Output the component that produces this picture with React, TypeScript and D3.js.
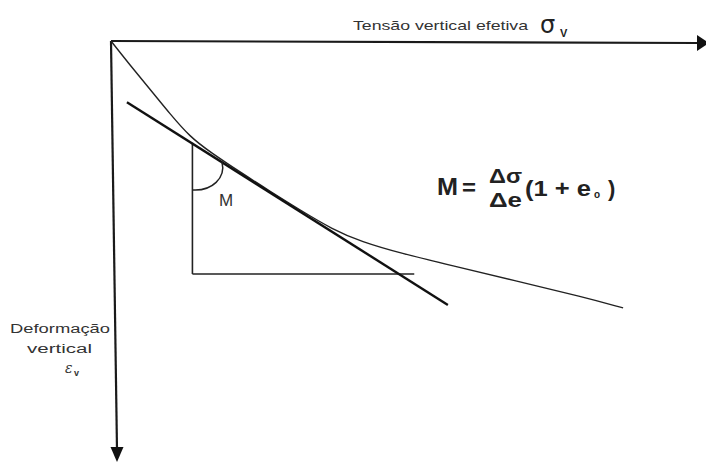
import React from "react";
import * as d3 from "d3";

// Compression curve: effective vertical stress (x) vs vertical strain (y), in arbitrary units 0..100
const stressValues = [0, 3.2, 6.6, 10, 13.4, 16.8, 21.9, 26.9, 32, 37.6, 42.4, 49.2, 57.5, 68.8, 80, 86.8];
const strainValues = [0, 5.7, 11.5, 17.4, 22.9, 26.5, 31.3, 35.8, 40.3, 45.0, 47.9, 50.7, 53.5, 57.3, 61.1, 63.7];

// Tangent line endpoints (stress, strain)
const tangentStress = [2.7, 57.1];
const tangentStrain = [14.6, 63.0];

// Slope triangle: tangent point and the corner below it
const trianglePoint = [13.8, 24.3];
const triangleBase = { strain: 55.6, stressEnd: 51.4 };

const xAxisLabel = "Tensão vertical efetiva";
const yAxisLabel = ["Deformação", "vertical"];

const W = 706;
const H = 462;

export default function App() {
  const x = d3.scaleLinear().domain([0, 100]).range([111, 701]);
  const y = d3.scaleLinear().domain([0, 100]).range([41, 460]);

  const curvePts: [number, number][] = stressValues.map((s, i) => [s, strainValues[i]]);
  const curve = d3
    .line<[number, number]>()
    .x((d) => x(d[0]))
    .y((d) => y(d[1]))
    .curve(d3.curveBasis)(curvePts);

  const tx0 = x(trianglePoint[0]);
  const ty0 = y(trianglePoint[1]);
  const tyB = y(triangleBase.strain);
  const txE = x(triangleBase.stressEnd);

  return (
    <svg
      width={W}
      height={H}
      style={{ position: "absolute", left: 0, top: 0, background: "#fff" }}
      fontFamily="'Liberation Sans', Arial, sans-serif"
    >
      <rect x={0} y={0} width={W} height={H} fill="#fff" />

      {/* horizontal axis */}
      <line x1={x(0)} y1={y(0)} x2={699} y2={43} stroke="#1a1a1a" strokeWidth={2.2} />
      <path d="M697,35 L709,43 L697,51 Z" fill="#111" />

      {/* vertical axis */}
      <line x1={x(0)} y1={y(0)} x2={117} y2={450} stroke="#1a1a1a" strokeWidth={2.2} />
      <path d="M110.5,447 L117,462 L123.5,447 Z" fill="#111" />

      {/* axis titles */}
      <text x={353} y={30} fontSize={13.5} fill="#333" textLength={175} lengthAdjust="spacingAndGlyphs">
        {xAxisLabel}
      </text>
      <text x={540} y={33} fontSize={24} fill="#222" fontFamily="'DejaVu Sans', sans-serif">
        σ
      </text>
      <text x={560} y={37} fontSize={11} fill="#222" fontWeight="bold">
        V
      </text>

      <text x={10} y={333} fontSize={12.5} fill="#333" textLength={100} lengthAdjust="spacingAndGlyphs">
        {yAxisLabel[0]}
      </text>
      <text x={27} y={353} fontSize={12.5} fill="#333" textLength={65} lengthAdjust="spacingAndGlyphs">
        {yAxisLabel[1]}
      </text>
      <text x={65} y={373} fontSize={14} fill="#333" fontStyle="italic" fontFamily="'DejaVu Serif', serif">
        ε
      </text>
      <text x={74} y={376} fontSize={9} fill="#333" fontWeight="bold">
        v
      </text>

      {/* compression curve */}
      <path d={curve ?? ""} fill="none" stroke="#222" strokeWidth={1.4} />

      {/* slope triangle */}
      <line x1={tx0} y1={ty0} x2={tx0} y2={tyB} stroke="#222" strokeWidth={1.6} />
      <line x1={tx0} y1={tyB} x2={txE} y2={tyB} stroke="#222" strokeWidth={1.6} />

      {/* tangent line */}
      <line
        x1={x(tangentStress[0])}
        y1={y(tangentStrain[0])}
        x2={x(tangentStress[1])}
        y2={y(tangentStrain[1])}
        stroke="#111"
        strokeWidth={2.4}
      />

      {/* angle arc */}
      <path d="M222,162 C226,178 212,191 193,190" fill="none" stroke="#222" strokeWidth={1.5} />
      <text x={219} y={206} fontSize={17} fill="#333">
        M
      </text>

      {/* modulus formula */}
      <g fill="#222" fontWeight="bold">
        <text x={437} y={195} fontSize={23} textLength={21} lengthAdjust="spacingAndGlyphs">M</text>
        <text x={462} y={195} fontSize={22} textLength={14} lengthAdjust="spacingAndGlyphs">=</text>
        <text x={489} y={183} fontSize={20} textLength={33} lengthAdjust="spacingAndGlyphs">Δσ</text>
        <text x={489} y={207} fontSize={20} textLength={33} lengthAdjust="spacingAndGlyphs">Δe</text>
        <text x={525} y={196} fontSize={22} textLength={66} lengthAdjust="spacingAndGlyphs">(1 + e</text>
        <text x={594} y={198} fontSize={10}>o</text>
        <text x={608} y={196} fontSize={22}>)</text>
      </g>
    </svg>
  );
}
